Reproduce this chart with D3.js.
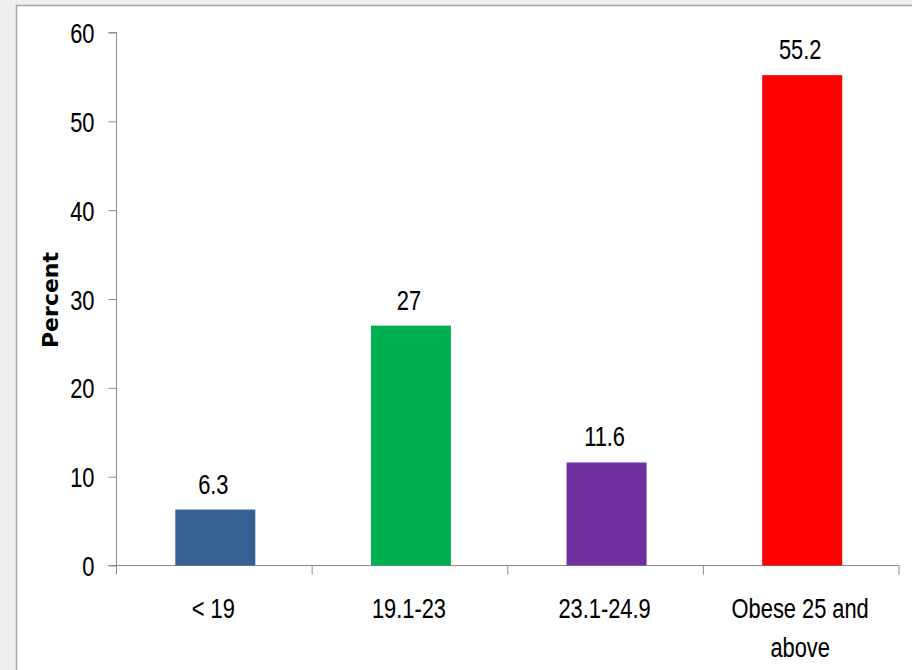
<!DOCTYPE html>
<html>
<head>
<meta charset="utf-8">
<script src="https://cdn.jsdelivr.net/npm/d3@7"></script>
<style>
  body { margin: 0; background: #eef0ee; }
  svg { display: block; }
  text { font-family: "Liberation Sans", Arial, sans-serif; fill: #000; }
  .lbl { stroke: #000; stroke-width: 0.1px; }
</style>
</head>
<body>
<svg id="chart" width="912" height="670"></svg>
<script>
const categories = ['< 19', '19.1-23', '23.1-24.9', 'Obese 25 and above']
const values = [6.3, 27, 11.6, 55.2]
const labels = ['6.3', '27', '11.6', '55.2']
const colors = ['#366092', '#00b050', '#7030a0', '#ff0000']
const yTicks = [0, 10, 20, 30, 40, 50, 60]

const svg = d3.select('#chart')

// frame
svg.append('rect')
    .attr('x', 16.5).attr('y', 5.5)
    .attr('width', 920).attr('height', 700)
    .attr('fill', '#fff')
    .attr('stroke', '#a6a6a6')
    .attr('stroke-width', 1.5)

const plotLeft = 116.5, plotRight = 899, plotTop = 32.5, plotBottom = 565.5
const sx = 0.78 // narrow the font, the original is Calibri
const fs = '28px'

const x = d3.scaleBand().domain(categories).range([plotLeft, plotRight]).paddingInner(0).paddingOuter(0)
const y = d3.scaleLinear().domain([0, 60]).range([plotBottom, plotTop])

const g = svg.append('g')

// y axis
const yAxis = g.append('g')
    .attr('transform', `translate(${plotLeft},0)`)
    .call(d3.axisLeft(y).tickValues(yTicks).tickSize(8).tickPadding(0))
yAxis.select('.domain').attr('stroke', '#8c8c8c').attr('d', `M-8,${plotTop}H0V${plotBottom + 9}`)
yAxis.selectAll('.tick line').attr('stroke', '#8c8c8c')
yAxis.selectAll('.tick text')
    .attr('class', 'lbl')
    .attr('x', null)
    .attr('dy', '0.36em')
    .attr('transform', `translate(-22,0) scale(${sx},1)`)
    .style('font-size', fs)

// x axis
const xAxis = g.append('g').attr('transform', `translate(0,${plotBottom})`)
xAxis.append('line')
    .attr('x1', plotLeft - 8).attr('x2', plotRight)
    .attr('stroke', '#8c8c8c')
const bounds = categories.map(c => x(c)).concat([x(categories[3]) + x.bandwidth()])
xAxis.selectAll('.xt').data(bounds.slice(1)).join('line')
    .attr('x1', d => d).attr('x2', d => d)
    .attr('y1', 0).attr('y2', 9)
    .attr('stroke', '#8c8c8c')

const bw = 80
const cx = i => x(categories[i]) + x.bandwidth() / 2 + 1

// bars
g.selectAll('.bar').data(values).join('rect')
    .attr('x', (d, i) => cx(i) - bw / 2)
    .attr('y', d => y(d))
    .attr('width', bw)
    .attr('height', d => y(0) - y(d))
    .attr('fill', (d, i) => colors[i])

// value labels
g.selectAll('.val').data(values).join('text')
    .attr('class', 'lbl')
    .attr('transform', (d, i) => `translate(${cx(i) - 2},${y(d) - 16}) scale(${sx},1)`)
    .attr('text-anchor', 'middle')
    .style('font-size', fs)
    .text((d, i) => labels[i])

// category labels
const catLines = [['< 19'], ['19.1-23'], ['23.1-24.9'], ['Obese 25 and', 'above']]
catLines.forEach((lines, i) => {
    const t = g.append('text')
        .attr('class', 'lbl')
        .attr('transform', `translate(${cx(i) - 2},618) scale(${sx},1)`)
        .attr('text-anchor', 'middle')
        .style('font-size', fs)
    lines.forEach((l, j) => {
        t.append('tspan')
            .attr('x', 0)
            .attr('y', j * 39)
            .text(l)
    })
})

// y title
svg.append('text')
    .attr('transform', 'translate(58,300) rotate(-90)')
    .attr('text-anchor', 'middle')
    .style('font-size', '22px')
    .style('font-weight', 'bold')
    .style('font-family', '"DejaVu Sans", sans-serif')
    .text('Percent')
</script>
</body>
</html>
